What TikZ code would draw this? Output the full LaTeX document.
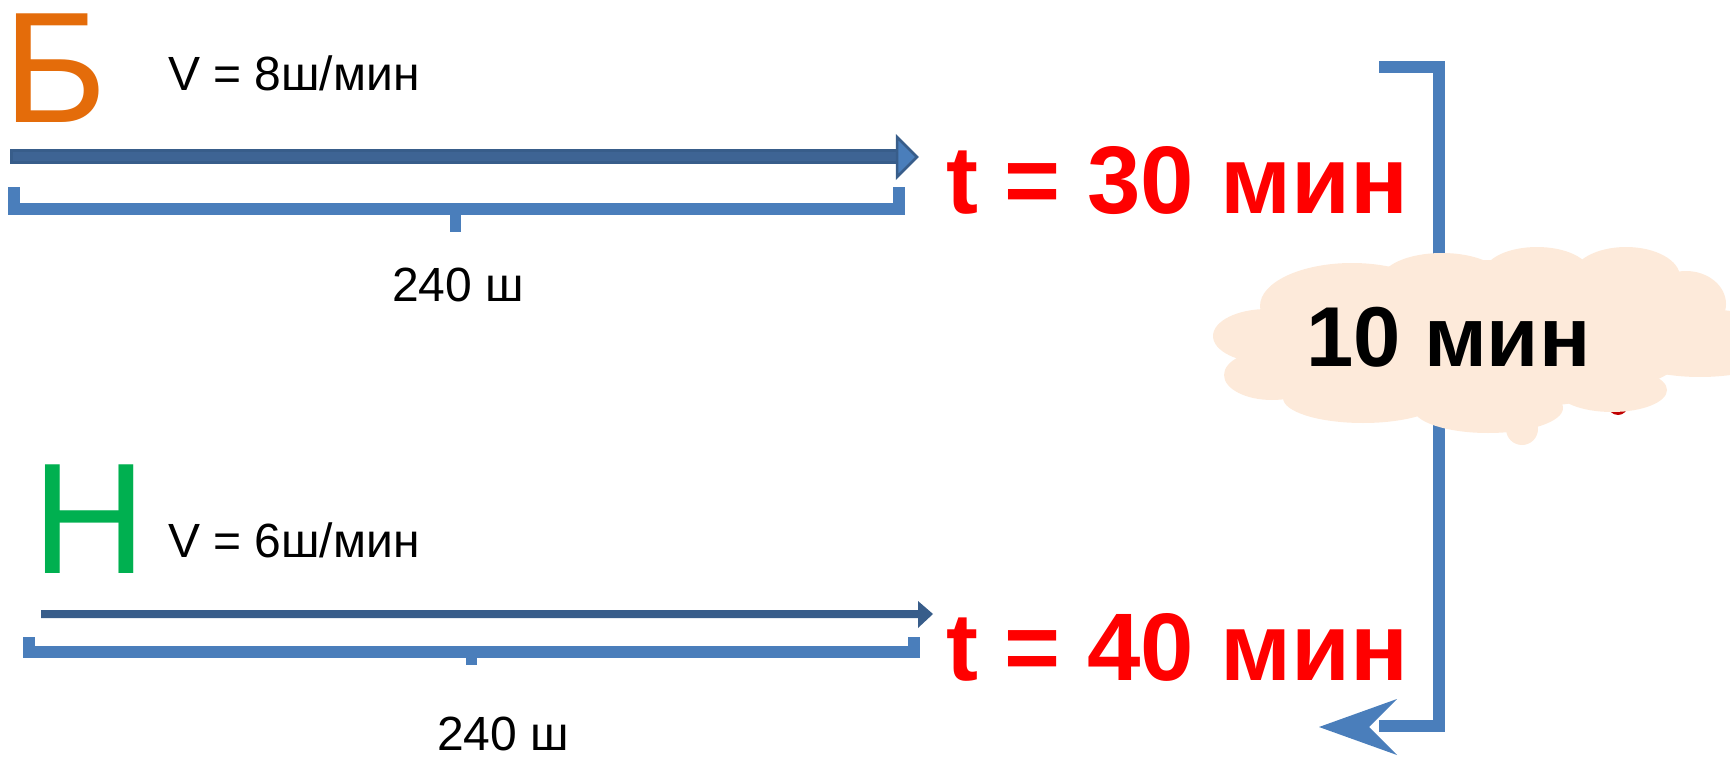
\documentclass[tikz,border=0pt]{standalone}
\usepackage{fontspec}
\setmainfont{Liberation Sans}
\definecolor{borange}{HTML}{E46C0A}
\definecolor{hgreen}{HTML}{00B050}
\definecolor{tred}{HTML}{FF0000}
\definecolor{blobred}{HTML}{C00000}
\definecolor{cloudfill}{HTML}{FDEADA}
\definecolor{brblue}{HTML}{4A7EBB}
\definecolor{ardark}{HTML}{385D8A}
\definecolor{arshaft}{HTML}{3E6494}
\tikzset{
  txt/.style={inner sep=0pt, outer sep=0pt, anchor=base west},
  bigletter/.style={txt, font=\fontsize{158}{158}\selectfont},
  speed/.style={txt, font=\fontsize{48}{48}\selectfont},
  timetxt/.style={txt, text=tred, font=\fontsize{96}{96}\selectfont\bfseries},
  bracketline/.style={draw=brblue, line width=12pt, line join=miter, line cap=butt},
  ticklinestyle/.style={draw=brblue, line width=11pt, line cap=butt},
  cloudpart/.style={fill=cloudfill, draw=none}
}
\begin{document}
\begin{tikzpicture}[x=1pt,y=-1pt]
\useasboundingbox (0,0) rectangle (1730,757);

% hidden red blob behind cloud
\fill[blobred] (1618,405) circle (10pt);

% ---------- top (Б) ----------
\node[bigletter, text=borange] (B) at (3,123) {Б};
\node[speed] (v1) at (168,91) {V = 8ш/мин};
\coordinate (a1s) at (11,157);
\coordinate (a1e) at (917,157);
\filldraw[fill=arshaft, draw=ardark, line width=3pt, line join=miter]
  (11,151) -- (897,151) -- (897,163) -- (11,163) -- cycle;
\filldraw[fill=brblue, draw=ardark, line width=2.5pt, line join=miter]
  (897,137) -- (a1e) -- (897,177) -- cycle;
\coordinate (b1l) at (14,187);
\coordinate (b1r) at (899,187);
\draw[bracketline] (b1l) -- (14,209) -- (899,209) -- (b1r);
\draw[ticklinestyle] (455,209) -- (455,232);
\node[speed] (d1) at (392,301) {240 ш};
\node[timetxt] (t1) at (946,213) {t = 30 мин};

% ---------- bottom (Н) ----------
\node[bigletter, text=hgreen] (H) at (32,573) {Н};
\node[speed] (v2) at (168,557) {V = 6ш/мин};
\coordinate (a2s) at (41,614);
\coordinate (a2e) at (933,614);
\fill[ardark] (41,610) -- (918,610) -- (918,601) -- (a2e) -- (918,628) -- (918,618) -- (41,618) -- cycle;
\coordinate (b2l) at (29,637);
\coordinate (b2r) at (914,637);
\draw[bracketline] (b2l) -- (29,652) -- (914,652) -- (b2r);
\draw[ticklinestyle] (471,652) -- (471,665);
\node[speed] (d2) at (437,750) {240 ш};
\node[timetxt] (t2) at (946,680) {t = 40 мин};

% ---------- right bracket with arrow ----------
\coordinate (rt) at (1379,67);
\coordinate (rb) at (1379,726);
\draw[bracketline] (rt) -- (1439,67) -- (1439,726) -- (rb);
\fill[brblue] (1319,727) -- (1397,699) -- (1369,727) -- (1397,755) -- cycle;

% ---------- cloud ----------
\begin{scope}
\clip (0,0) rectangle (1730,757);
\path[cloudpart] (1480,335) ellipse [x radius=220pt, y radius=75pt];
\path[cloudpart] (1267,336) ellipse [x radius=54pt, y radius=27pt];
\path[cloudpart] (1272,375) ellipse [x radius=48pt, y radius=25pt];
\path[cloudpart] (1352,306) ellipse [x radius=92pt, y radius=43pt];
\path[cloudpart] (1442,280) ellipse [x radius=61pt, y radius=27pt];
\path[cloudpart] (1537,273) ellipse [x radius=53pt, y radius=26pt];
\path[cloudpart] (1626,277) ellipse [x radius=54pt, y radius=30pt];
\path[cloudpart] (1686,304) ellipse [x radius=40pt, y radius=33pt];
\path[cloudpart] (1700,343) ellipse [x radius=90pt, y radius=34pt];
\path[cloudpart] (1612,390) ellipse [x radius=55pt, y radius=22pt];
\path[cloudpart] (1488,408) ellipse [x radius=75pt, y radius=25pt];
\path[cloudpart] (1363,398) ellipse [x radius=80pt, y radius=25pt];
\path[cloudpart] (1522,429) circle (16pt);
\end{scope}
\node[txt, font=\fontsize{85}{85}\selectfont\bfseries] (ten) at (1306,366) {10 мин};
\end{tikzpicture}
\end{document}
